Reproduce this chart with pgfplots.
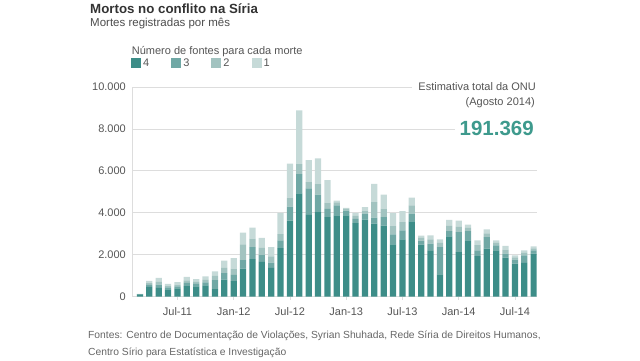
\documentclass[border=0pt]{standalone}
\usepackage{pgfplots}
\pgfplotsset{compat=1.18}
\usepackage{pgfplotstable}
\usepackage{fontspec}
\setmainfont{Liberation Sans}
\definecolor{c4}{HTML}{3D8D88}
\definecolor{c3}{HTML}{70A8A5}
\definecolor{c2}{HTML}{A2C3C0}
\definecolor{c1}{HTML}{C6DAD8}
\definecolor{tealtxt}{HTML}{3E9A8D}
\definecolor{gridc}{HTML}{DDDDDD}
\definecolor{ticktxt}{HTML}{555555}
\pgfplotstableread{
i d4 d3 d2 d1
0 110 10 5 5
1 470 100 80 100
2 425 150 130 195
3 350 100 80 85
4 395 100 80 115
5 500 160 120 165
6 490 120 100 125
7 535 150 120 170
8 360 430 200 220
9 820 300 250 345
10 740 300 300 500
11 1340 400 760 550
12 1790 580 400 520
13 1660 320 350 480
14 1370 250 300 450
15 2320 370 300 1010
16 3630 670 400 1650
17 4930 920 470 2570
18 3900 1270 300 1040
19 4030 840 500 1230
20 3790 400 300 1070
21 3880 470 150 80
22 3880 230 80 50
23 3510 200 150 140
24 3670 290 150 160
25 3480 290 740 870
26 3390 410 400 670
27 2500 470 400 620
28 2740 420 400 520
29 3590 370 400 360
30 2480 200 130 100
31 2180 350 200 200
32 1070 1300 200 160
33 2880 250 250 280
34 2130 950 250 300
35 2690 440 150 160
36 1930 280 250 230
37 2290 550 180 190
38 2210 240 120 120
39 1860 190 200 170
40 1580 190 100 100
41 1610 360 120 120
42 2050 160 100 90
}\data
\begin{document}
\begin{tikzpicture}
\useasboundingbox (0pt,0pt) rectangle (640pt,-360pt);
\begin{axis}[
  at={(132pt,-296.7pt)}, anchor=south west,
  scale only axis, width=404.5pt, height=209.7pt,
  xmin=-0.85, xmax=42.3, ymin=0, ymax=10000,
  ybar stacked, bar width=6.3pt,
  axis x line*=bottom, axis y line*=left,
  axis line style={color=gridc, line width=0.8pt},
  ymajorgrids, grid style={color=gridc, line width=0.8pt},
  scaled y ticks=false,
  ytick={0,2000,4000,6000,8000,10000},
  yticklabels={0,2.000,4.000,6.000,8.000,10.000},
  xtick={4,10,16,22,28,34,40},
  xticklabels={Jul-11,Jan-12,Jul-12,Jan-13,Jul-13,Jan-14,Jul-14},
  ytick style={draw=none},
  xtick style={color=gridc, line width=0.8pt},
  xtick align=outside, major tick length=3pt,
  tick label style={font=\fontsize{11}{13}\selectfont, text=ticktxt},
  yticklabel style={inner sep=0pt, xshift=-6pt},
  xticklabel style={inner sep=0pt, yshift=-8pt},
  legend columns=4,
  legend style={draw=none, fill=none, at={(0,1)}, anchor=south west,
    yshift=17pt, xshift=-1pt, inner sep=0pt,
    font=\fontsize{11}{13}\selectfont, text=ticktxt,
    /tikz/every even column/.append style={column sep=20pt}},
  legend image code/.code={\fill[#1] (0pt,-4.5pt) rectangle (10pt,5pt);},
]
\addplot[fill=c4, draw=none] table[x=i, y=d4] {\data};
\addplot[fill=c3, draw=none] table[x=i, y=d3] {\data};
\addplot[fill=c2, draw=none] table[x=i, y=d2] {\data};
\addplot[fill=c1, draw=none] table[x=i, y=d1] {\data};
\legend{4,3,2,1}
\end{axis}
% title block
\node[anchor=base west, inner sep=0pt, font=\bfseries\fontsize{13.3}{15}\selectfont, text=black!80] at (90pt,-13pt) {Mortos no conflito na Síria};
\node[anchor=base west, inner sep=0pt, font=\fontsize{11.5}{13}\selectfont, text=black!70] at (90pt,-26pt) {Mortes registradas por mês};
\node[anchor=base west, inner sep=0pt, font=\fontsize{11}{13}\selectfont, text=ticktxt] at (131.7pt,-54.5pt) {Número de fontes para cada morte};
% annotation
\node[anchor=base east, fill=white, inner xsep=6pt, inner ysep=3pt, font=\fontsize{11}{13}\selectfont, text=ticktxt] at (542pt,-90pt) {Estimativa total da ONU};
\node[anchor=base east, inner sep=0pt, font=\fontsize{11}{13}\selectfont, text=ticktxt] at (535pt,-105pt) {(Agosto 2014)};
\node[anchor=base east, fill=white, inner xsep=5pt, inner ysep=2pt, font=\bfseries\fontsize{20.5}{22}\selectfont, text=tealtxt] at (539pt,-135pt) {191.369};
% footer
\node[anchor=base west, inner sep=0pt, font=\fontsize{10.3}{12}\selectfont, text=black!60] at (88pt,-338pt) {Fontes: Centro de Documentação de Violações, Syrian Shuhada, Rede Síria de Direitos Humanos,};
\node[anchor=base west, inner sep=0pt, font=\fontsize{10.3}{12}\selectfont, text=black!60] at (88pt,-355pt) {Centro Sírio para Estatística e Investigação};
\end{tikzpicture}
\end{document}
